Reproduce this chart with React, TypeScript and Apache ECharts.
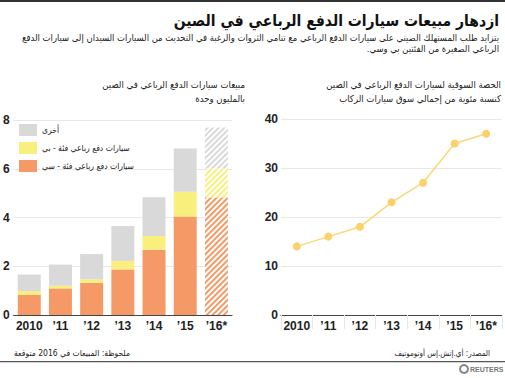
import React, { useEffect, useRef } from "react";
import * as echarts from "echarts";

const years = ["2010", "’11", "’12", "’13", "’14", "’15", "’16*"];
const segC = [0.82, 1.09, 1.32, 1.87, 2.68, 4.04, 4.83];
const segB = [0.16, 0.11, 0.14, 0.35, 0.56, 1.02, 1.18];
const segOther = [0.68, 0.87, 1.04, 1.43, 1.59, 1.77, 1.68];
const share = [14, 16, 18, 23, 27, 35, 37];
const salesTicks = [0, 2, 4, 6, 8];
const shareTicks = [0, 10, 20, 30, 40];

const rtl = (s: string) => "\u202B" + s + "\u202C";

const labelC = rtl("سيارات دفع رباعي فئة - سي");
const labelB = rtl("سيارات دفع رباعي فئة - بي");
const labelOther = rtl("أخرى");

const FONT = "'Liberation Sans', Arial, sans-serif";
const AFONT = "'DejaVu Sans Condensed', 'DejaVu Sans', sans-serif";
const cOrange = "#f59a66";
const cYellow = "#f8ef7c";
const cGray = "#d9d9da";

function hatched(values: number[], color: string) {
  return values.map((v, i) =>
    i === values.length - 1
      ? {
          value: v,
          itemStyle: {
            color: "#ffffff",
            decal: {
              symbol: "rect",
              symbolSize: 1,
              color: color,
              dashArrayX: [1, 0],
              dashArrayY: [2, 1.6],
              rotation: -Math.PI / 4,
            },
          },
        }
      : v
  );
}

export default function App() {
  const ref = useRef<HTMLDivElement>(null);
  useEffect(() => {
    if (!ref.current) return;
    const chart = echarts.init(ref.current, undefined, { renderer: "svg" });
    const axisLabel = { fontFamily: FONT, fontSize: 12, fontWeight: "bold", color: "#222" };
    const txt = (
      text: string,
      x: number,
      y: number,
      size: number,
      align: string,
      weight = "normal",
      fill = "#222",
      family = AFONT
    ) => ({
      type: "text",
      x,
      y,
      style: { text, font: `${weight} ${size}px ${family}`, fill, align, verticalAlign: "middle" },
    });
    chart.setOption({
      animation: false,
      backgroundColor: "#ffffff",
      grid: [
        { left: 10, right: 273, top: 120, bottom: 63 },
        { left: 281, right: 3, top: 119, bottom: 63 },
      ],
      legend: {
        orient: "vertical",
        left: 14,
        top: 119,
        itemWidth: 18,
        itemHeight: 12,
        itemGap: 6,
        icon: "rect",
        data: [labelOther, labelB, labelC],
        textStyle: { fontFamily: AFONT, fontSize: 8.5, color: "#222" },
      },
      xAxis: [
        {
          type: "category",
          gridIndex: 0,
          data: years,
          axisLine: { lineStyle: { color: "#444", width: 1.2 } },
          axisTick: { show: false },
          axisLabel: { ...axisLabel, margin: 5, interval: 0 },
        },
        {
          type: "category",
          gridIndex: 1,
          data: years,
          axisLine: { lineStyle: { color: "#444", width: 1.2 } },
          axisTick: { show: true, length: 14, lineStyle: { color: "#e6e6e6" } },
          axisLabel: { ...axisLabel, margin: 5, interval: 0 },
        },
      ],
      yAxis: [
        {
          type: "value",
          gridIndex: 0,
          min: salesTicks[0],
          max: salesTicks[salesTicks.length - 1],
          interval: 2,
          axisLine: { show: false },
          axisTick: { show: false },
          splitLine: { lineStyle: { color: "#e8e8e8" } },
          axisLabel: { ...axisLabel, margin: 4 },
        },
        {
          type: "value",
          gridIndex: 1,
          min: shareTicks[0],
          max: shareTicks[shareTicks.length - 1],
          interval: 10,
          axisLine: { show: false },
          axisTick: { show: false },
          splitLine: { lineStyle: { color: "#e8e8e8" } },
          axisLabel: { ...axisLabel, margin: 3 },
        },
      ],
      series: [
        {
          name: labelC,
          type: "bar",
          stack: "s",
          xAxisIndex: 0,
          yAxisIndex: 0,
          barWidth: 23,
          itemStyle: { color: cOrange },
          data: hatched(segC, cOrange),
        },
        {
          name: labelB,
          type: "bar",
          stack: "s",
          xAxisIndex: 0,
          yAxisIndex: 0,
          barWidth: 23,
          itemStyle: { color: cYellow },
          data: hatched(segB, cYellow),
        },
        {
          name: labelOther,
          type: "bar",
          stack: "s",
          xAxisIndex: 0,
          yAxisIndex: 0,
          barWidth: 23,
          itemStyle: { color: cGray },
          data: hatched(segOther, cGray),
        },
        {
          name: "share",
          type: "line",
          xAxisIndex: 1,
          yAxisIndex: 1,
          data: share,
          symbol: "circle",
          symbolSize: 8,
          lineStyle: { color: "#fdd677", width: 1.5 },
          itemStyle: { color: "#fcd06a" },
        },
      ],
      graphic: [
        { type: "rect", shape: { x: 0, y: 0, width: 505, height: 2 }, style: { fill: "#333" } },
        txt(rtl("ازدهار مبيعات سيارات الدفع الرباعي في الصين"), 499, 21, 15.5, "right", "bold", "#111"),
        txt(
          rtl(
            "يتزايد طلب المستهلك الصيني على سيارات الدفع الرباعي مع تنامي الثروات والرغبة في التحديث من السيارات السيدان إلى سيارات الدفع"
          ),
          499,
          37,
          9.4,
          "right"
        ),
        txt(rtl("الرباعي الصغيرة من الفئتين بي وسي."), 499, 48, 9.4, "right"),
        txt(rtl("مبيعات سيارات الدفع الرباعي في الصين"), 245, 84, 9.5, "right"),
        txt(rtl("بالمليون وحدة"), 245, 98, 9.5, "right"),
        txt(rtl("الحصة السوقية لسيارات الدفع الرباعي في الصين"), 501, 84, 9.5, "right"),
        txt(rtl("كنسبة مئوية من إجمالي سوق سيارات الركاب"), 501, 98, 9.5, "right"),
        txt(rtl("ملحوظة: المبيعات في 2016 متوقعة"), 130, 353, 8.5, "right"),
        txt(rtl("المصدر: أي.إتش.إس أوتوموتيف"), 490, 353, 8, "right"),
        { type: "rect", shape: { x: 0, y: 361, width: 505, height: 1.2 }, style: { fill: "#555" } },
        { type: "circle", shape: { cx: 464, cy: 369, r: 4 }, style: { fill: "#fff", stroke: "#888", lineWidth: 2 } },
        txt("REUTERS", 470, 369, 7, "left", "bold", "#777", FONT),
      ],
    });
    return () => chart.dispose();
  }, []);
  return <div ref={ref} style={{ width: 505, height: 378, position: "absolute", left: 0, top: 0 }} />;
}
